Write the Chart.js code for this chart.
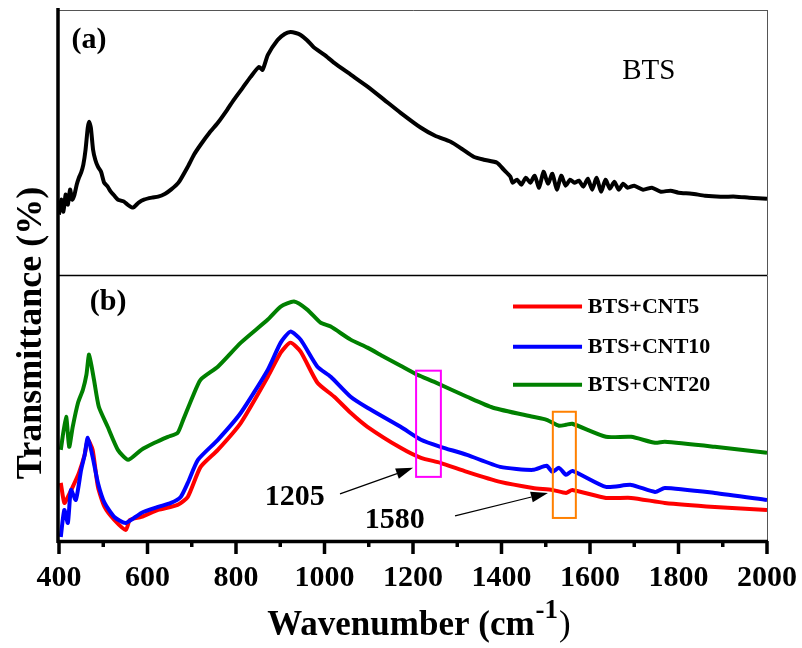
<!DOCTYPE html>
<html>
<head>
<meta charset="utf-8">
<script src="https://cdn.jsdelivr.net/npm/chart.js@4.4.1/dist/chart.umd.min.js"></script>
<style>
  html, body { margin: 0; padding: 0; background: #fff; }
  #wrap { width: 802px; height: 648px; }
</style>
</head>
<body>
<div id="wrap"><canvas id="ftir" width="802" height="648"></canvas></div>
<script>
// FTIR spectra, transmittance in arbitrary units
const btsWave = [400, 405, 410, 415, 420, 425, 430, 435, 440, 445, 450, 455, 460, 465, 468, 472, 477, 482, 488, 495,
  502, 510, 517, 525, 533, 540, 547, 555, 567, 580, 592, 610, 624, 640, 653, 670, 691, 705, 720, 740,
  759, 780, 795, 815, 833, 852, 860, 872, 894, 910, 923, 935, 946, 960, 975, 1000, 1022, 1060, 1098, 1135,
  1172, 1218, 1250, 1285, 1310, 1337, 1360, 1390, 1405, 1420, 1425, 1435, 1445, 1455, 1465, 1475, 1485, 1495, 1505, 1515,
  1525, 1535, 1545, 1555, 1565, 1575, 1585, 1595, 1605, 1615, 1625, 1635, 1645, 1655, 1665, 1675, 1685, 1700, 1720, 1740,
  1760, 1782, 1800, 1830, 1860, 1895, 1930, 1960, 2000];
const btsT = [61, 76, 64, 81, 71, 86, 76, 81, 91, 98, 103, 111, 126, 148, 154, 148, 126, 116, 109, 104,
  93, 89, 84, 80, 76, 75, 74, 71, 68, 73, 76, 78, 79, 82, 86, 93, 109, 121, 131, 143,
  153, 166, 176, 188, 199, 209, 206, 221, 236, 242, 244, 243, 241, 236, 229, 221, 213, 201, 189, 176,
  163, 148, 140, 134, 127, 119, 116, 113, 106, 99, 93, 96, 91, 98, 93, 100, 88, 104, 92, 102,
  86, 100, 90, 96, 93, 95, 89, 97, 86, 98, 84, 96, 87, 94, 86, 92, 88, 90, 86, 88,
  84, 85, 83, 82, 80, 79, 79, 78, 77];

const cnt5Wave = [404, 412, 420, 431, 445, 458, 465, 476, 488, 503, 525, 551, 560, 586, 624, 668, 691, 720, 759, 811,
  872, 901, 923, 946, 984, 1022, 1059, 1097, 1172, 1218, 1262, 1322, 1397, 1471, 1515, 1546, 1560, 1636, 1693, 1769,
  1882, 2000];
const cnt5T = [58, 38, 44, 54, 68, 86, 101, 91, 54, 34, 21, 11, 21, 24, 31, 36, 44, 74, 91, 118,
  164, 188, 198, 189, 158, 144, 128, 114, 93, 83, 78, 69, 59, 53, 51, 48, 51, 43, 43, 38,
  34, 31];

const cnt10Wave = [404, 412, 420, 427, 438, 450, 458, 465, 476, 488, 503, 525, 551, 586, 624, 653, 675, 691, 714, 759,
  811, 872, 901, 923, 946, 984, 1014, 1059, 1097, 1172, 1218, 1262, 1322, 1397, 1471, 1502, 1515, 1530, 1546, 1560,
  1636, 1693, 1747, 1769, 1882, 2000];
const cnt10T = [4, 31, 18, 51, 41, 71, 86, 103, 84, 58, 38, 24, 18, 28, 34, 38, 44, 58, 81, 101,
  128, 171, 198, 209, 201, 174, 164, 144, 133, 114, 101, 94, 86, 74, 71, 75, 69, 73, 66, 70,
  54, 56, 49, 53, 48, 41];

const cnt20Wave = [404, 416, 423, 431, 443, 454, 462, 468, 479, 490, 510, 533, 556, 586, 616, 646, 668, 679, 702, 720,
  759, 811, 872, 901, 931, 961, 991, 1014, 1059, 1097, 1134, 1172, 1210, 1247, 1322, 1381, 1471, 1502, 1530, 1546,
  1560, 1636, 1693, 1747, 1769, 1882, 2000];
const cnt20T = [91, 124, 94, 114, 138, 151, 166, 186, 161, 134, 114, 91, 81, 91, 98, 104, 108, 119, 144, 161,
  174, 198, 221, 234, 239, 231, 218, 214, 201, 193, 184, 175, 166, 159, 144, 133, 124, 121, 115, 116,
  117, 104, 104, 98, 99, 94, 88];

const xTickLabels = ['400', '600', '800', '1000', '1200', '1400', '1600', '1800', '2000'];
const seriesNames = ['BTS', 'BTS+CNT5', 'BTS+CNT10', 'BTS+CNT20'];
const legendNames = ['BTS+CNT5', 'BTS+CNT10', 'BTS+CNT20'];

const serif = "'Liberation Serif', 'Times New Roman', serif";
const pts = (xs, ys) => xs.map((x, i) => ({ x: x, y: ys[i] }));

function line(label, xs, ys, color, axis) {
  return {
    label: label, data: pts(xs, ys), yAxisID: axis,
    borderColor: color, borderWidth: 4, pointRadius: 0,
    tension: 0.2, fill: false
  };
}

// annotation anchors, in data coordinates
const notes = {
  labelA: { x: 468, y: 236 },
  labelB: { x: 511, y: 238 },
  btsTag: { x: 1733, y: 204 },
  peak1205: { text: '1205', x: 933, y: 44, from: [1035, 47], to: [1200, 73] },
  peak1580: { text: '1580', x: 1159, y: 21, from: [1295, 25], to: [1505, 48] },
  box1205: { x0: 1207, x1: 1263, y0: 64, y1: 170, color: '#ff00ff' },
  box1580: { x0: 1516, x1: 1568, y0: 23, y1: 129, color: '#ff8000' },
  legend: { x0: 1426, x1: 1582, tx: 1595, ys: [234, 194, 156] }
};

function arrow(ctx, x0, y0, x1, y1) {
  const ang = Math.atan2(y1 - y0, x1 - x0);
  const len = 17, half = 5.5;
  ctx.beginPath();
  ctx.moveTo(x0, y0);
  ctx.lineTo(x1 - Math.cos(ang) * len, y1 - Math.sin(ang) * len);
  ctx.lineWidth = 1.2;
  ctx.stroke();
  ctx.beginPath();
  ctx.moveTo(x1, y1);
  ctx.lineTo(x1 - Math.cos(ang) * len - Math.sin(ang) * half, y1 - Math.sin(ang) * len + Math.cos(ang) * half);
  ctx.lineTo(x1 - Math.cos(ang) * len + Math.sin(ang) * half, y1 - Math.sin(ang) * len - Math.cos(ang) * half);
  ctx.closePath();
  ctx.fill();
}

const decor = {
  id: 'decor',
  afterDraw(chart) {
    const ctx = chart.ctx;
    const a = chart.chartArea;
    const x = chart.scales.x, yA = chart.scales.yA, yB = chart.scales.yB;
    ctx.save();
    ctx.strokeStyle = '#000';
    ctx.fillStyle = '#000';

    // frame
    ctx.lineWidth = 1;
    ctx.strokeStyle = '#555';
    ctx.beginPath();
    ctx.moveTo(a.left, a.top + 0.5); ctx.lineTo(a.right + 0.5, a.top + 0.5);
    ctx.moveTo(a.right + 0.5, a.top); ctx.lineTo(a.right + 0.5, a.bottom);
    ctx.stroke();
    ctx.strokeStyle = '#000';
    ctx.lineWidth = 1.5;
    const split = Math.min(yA.bottom, yB.bottom);
    ctx.beginPath();
    ctx.moveTo(a.left, split); ctx.lineTo(a.right, split);
    ctx.stroke();
    ctx.lineWidth = 3.5;
    ctx.beginPath();
    ctx.moveTo(a.left - 1, a.top - 2); ctx.lineTo(a.left - 1, a.bottom + 2);
    ctx.moveTo(a.left - 2, a.bottom + 0.5); ctx.lineTo(a.right + 1, a.bottom + 0.5);
    ctx.stroke();

    // x ticks: long every 200, short every 100
    x.ticks.forEach(t => {
      const px = x.getPixelForValue(t.value);
      const len = t.value % 200 === 0 ? 13 : 6;
      ctx.beginPath();
      ctx.moveTo(px, a.bottom); ctx.lineTo(px, a.bottom + len);
      ctx.stroke();
    });

    // axis titles
    ctx.textAlign = 'center';
    ctx.textBaseline = 'alphabetic';
    ctx.save();
    ctx.translate(41, 333);
    ctx.rotate(-Math.PI / 2);
    ctx.font = 'bold 36px ' + serif;
    ctx.fillText('Transmittance (%)', 0, 0);
    ctx.restore();

    ctx.textAlign = 'left';
    const main = 'Wavenumber (cm', sup = '-1', close = ')';
    ctx.font = 'bold 35px ' + serif;
    const w1 = ctx.measureText(main).width;
    ctx.font = 'bold 27px ' + serif;
    const w2 = ctx.measureText(sup).width;
    ctx.font = '35px ' + serif;
    const w3 = ctx.measureText(close).width;
    let tx = 419 - (w1 + w2 + w3 + 2) / 2;
    ctx.font = 'bold 35px ' + serif;
    ctx.fillText(main, tx, 635);
    tx += w1 + 1;
    ctx.font = 'bold 27px ' + serif;
    ctx.fillText(sup, tx, 618);
    tx += w2 + 1;
    ctx.font = '35px ' + serif;
    ctx.fillText(close, tx, 635);

    // panel labels
    ctx.textAlign = 'center';
    ctx.textBaseline = 'middle';
    ctx.font = 'bold 30px ' + serif;
    ctx.fillText('(a)', x.getPixelForValue(notes.labelA.x), yA.getPixelForValue(notes.labelA.y));
    ctx.fillText('(b)', x.getPixelForValue(notes.labelB.x), yB.getPixelForValue(notes.labelB.y));
    ctx.font = '29px ' + serif;
    ctx.fillText(seriesNames[0], x.getPixelForValue(notes.btsTag.x), yA.getPixelForValue(notes.btsTag.y));

    // highlighted bands
    ctx.lineWidth = 2;
    [notes.box1205, notes.box1580].forEach(b => {
      const l = x.getPixelForValue(b.x0), r = x.getPixelForValue(b.x1);
      const tp = yB.getPixelForValue(b.y1), bt = yB.getPixelForValue(b.y0);
      ctx.strokeStyle = b.color;
      ctx.strokeRect(l, tp, r - l, bt - tp);
    });

    // peak callouts
    ctx.strokeStyle = '#000';
    ctx.fillStyle = '#000';
    ctx.font = 'bold 30px ' + serif;
    [notes.peak1205, notes.peak1580].forEach(p => {
      ctx.fillText(p.text, x.getPixelForValue(p.x), yB.getPixelForValue(p.y));
      arrow(ctx, x.getPixelForValue(p.from[0]), yB.getPixelForValue(p.from[1]),
        x.getPixelForValue(p.to[0]), yB.getPixelForValue(p.to[1]));
    });

    // legend
    const lg = notes.legend;
    ctx.textAlign = 'left';
    ctx.font = 'bold 22px ' + serif;
    legendNames.forEach((name, i) => {
      const ds = chart.data.datasets.find(d => d.label === name);
      const ly = yB.getPixelForValue(lg.ys[i]);
      ctx.strokeStyle = ds.borderColor;
      ctx.lineWidth = 4;
      ctx.beginPath();
      ctx.moveTo(x.getPixelForValue(lg.x0), ly);
      ctx.lineTo(x.getPixelForValue(lg.x1), ly);
      ctx.stroke();
      ctx.fillStyle = '#000';
      ctx.fillText(name, x.getPixelForValue(lg.tx), ly + 1);
    });
    ctx.restore();
  }
};

new Chart(document.getElementById('ftir'), {
  type: 'line',
  data: {
    datasets: [
      line(seriesNames[0], btsWave, btsT, '#000000', 'yA'),
      line(seriesNames[2], cnt10Wave, cnt10T, '#0000ff', 'yB'),
      line(seriesNames[1], cnt5Wave, cnt5T, '#ff0000', 'yB'),
      line(seriesNames[3], cnt20Wave, cnt20T, '#008000', 'yB')
    ]
  },
  options: {
    responsive: false,
    animation: false,
    layout: { padding: { left: 59, right: 35, top: 10, bottom: 0 } },
    plugins: { legend: { display: false }, tooltip: { enabled: false } },
    scales: {
      x: {
        type: 'linear', position: 'bottom', min: 400, max: 2000,
        grid: { display: false, drawTicks: false },
        border: { display: false },
        ticks: {
          stepSize: 100, autoSkip: false, maxRotation: 0, padding: 19, color: '#000',
          font: { family: serif, size: 30, weight: 'bold' },
          callback: v => xTickLabels.includes(String(v)) ? String(v) : ''
        },
        afterFit: s => { s.height = 107; s.paddingLeft = 0; s.paddingRight = 0; }
      },
      yB: { type: 'linear', position: 'left', stack: 'panels', stackWeight: 1, min: 0, max: 265, display: false },
      yA: { type: 'linear', position: 'left', stack: 'panels', stackWeight: 1, min: 0, max: 266, display: false }
    }
  },
  plugins: [decor]
});
</script>
</body>
</html>
